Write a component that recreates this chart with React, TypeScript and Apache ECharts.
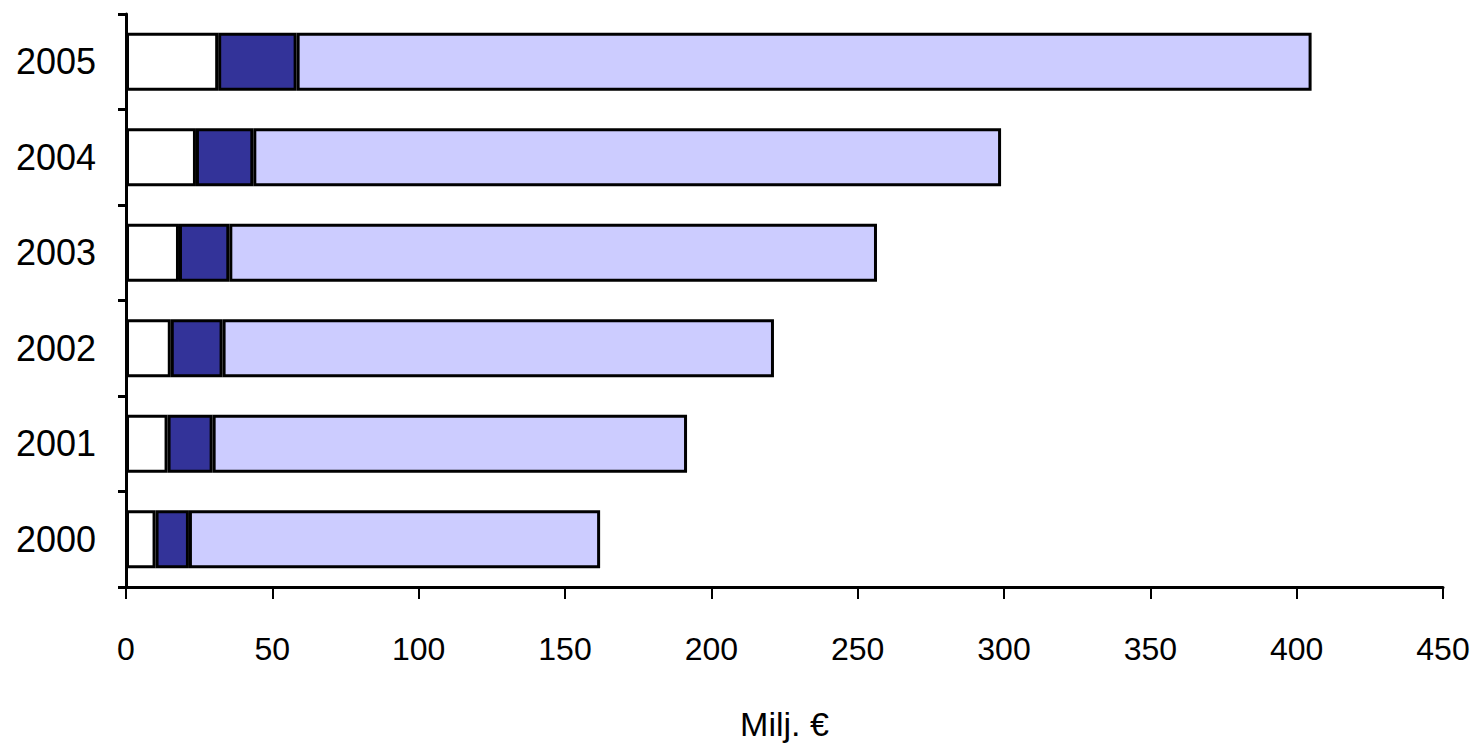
import React, { useEffect, useRef } from "react";
import * as echarts from "echarts";

const years = ["2000", "2001", "2002", "2003", "2004", "2005"];
const whitePart = [10.1, 14.2, 15.3, 18.1, 23.9, 31.5];
const darkPart = [11.4, 15.4, 17.7, 17.2, 19.6, 26.8];
const lightPart = [140.5, 162.1, 188.4, 221.3, 255.5, 346.8];
const xTicks = { min: 0, max: 450, interval: 50 };
const axisName = "Milj. €";

export default function App() {
  const ref = useRef<HTMLDivElement>(null);
  useEffect(() => {
    if (!ref.current) return;
    const chart = echarts.init(ref.current, undefined, { renderer: "svg" });
    const barStyle = (color: string) => ({
      color,
      borderColor: "#000",
      borderWidth: 3,
    });
    chart.setOption({
      animation: false,
      backgroundColor: "#ffffff",
      grid: { left: 126, right: 34, top: 14, bottom: 156, containLabel: false },
      xAxis: {
        type: "value",
        min: xTicks.min,
        max: xTicks.max,
        interval: xTicks.interval,
        name: axisName,
        nameLocation: "middle",
        nameGap: 120,
        nameTextStyle: { color: "#000", fontSize: 34, fontFamily: "Liberation Sans" },
        axisLine: { show: true, lineStyle: { color: "#000", width: 3 } },
        axisTick: { show: true, inside: false, length: 12, lineStyle: { color: "#000", width: 2 } },
        axisLabel: { color: "#000", fontSize: 32, margin: 46, fontFamily: "Liberation Sans" },
        splitLine: { show: false },
      },
      yAxis: {
        type: "category",
        data: years,
        axisLine: { show: true, lineStyle: { color: "#000", width: 3 } },
        axisTick: { show: true, inside: false, length: 8, lineStyle: { color: "#000", width: 3 } },
        axisLabel: { color: "#000", fontSize: 36, margin: 30, fontFamily: "Liberation Sans" },
      },
      series: [
        { type: "bar", stack: "a", data: whitePart, barWidth: 58, itemStyle: barStyle("#ffffff") },
        { type: "bar", stack: "a", data: darkPart, barWidth: 58, itemStyle: barStyle("#333399") },
        { type: "bar", stack: "a", data: lightPart, barWidth: 58, itemStyle: barStyle("#ccccff") },
      ],
    });
    return () => chart.dispose();
  }, []);
  return (
    <div
      ref={ref}
      style={{ position: "fixed", left: 0, top: 0, width: 1477, height: 746 }}
    />
  );
}
